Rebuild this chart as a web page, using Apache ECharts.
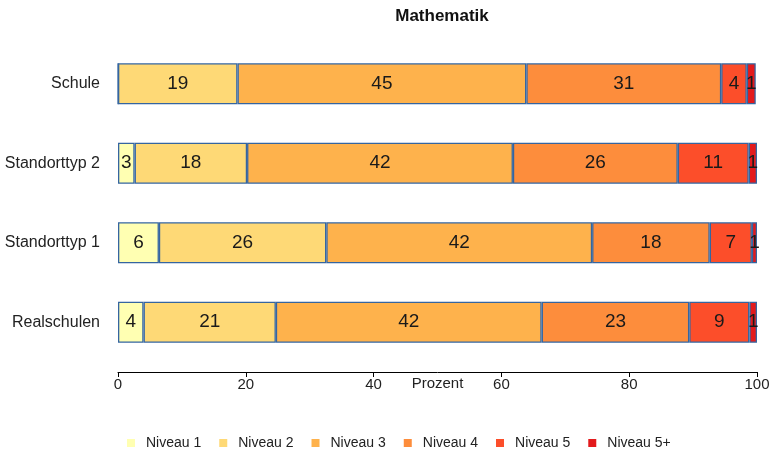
<!DOCTYPE html>
<html>
<head>
<meta charset="utf-8">
<script src="https://cdn.jsdelivr.net/npm/echarts@6/dist/echarts.min.js"></script>
<style>html,body{margin:0;padding:0;background:#fff;}#c{width:769px;height:452px;}</style>
</head>
<body>
<div id="c"></div>
<script>
var categories = ['Schule', 'Standorttyp 2', 'Standorttyp 1', 'Realschulen'];
var seriesNames = ['Niveau 1', 'Niveau 2', 'Niveau 3', 'Niveau 4', 'Niveau 5', 'Niveau 5+'];
var niveau1  = [0,    2.6,  6.4,  4.0];
var niveau2  = [18.7, 17.6, 26.2, 20.7];
var niveau3  = [45.2, 41.6, 41.6, 41.6];
var niveau4  = [30.5, 25.8, 18.4, 23.1];
var niveau5  = [4.0,  11.1, 6.6,  9.4];
var niveau5p = [1.4,  1.3,  0.8,  1.2];
var colors = ['#FFFFB2', '#FED976', '#FEB24C', '#FD8D3C', '#FC4E2A', '#E31A1C'];
var xTicks = [0, 20, 40, 60, 80, 100];

var allData = [niveau1, niveau2, niveau3, niveau4, niveau5, niveau5p];
var chart = echarts.init(document.getElementById('c'));
var font = 'Liberation Sans, Arial, sans-serif';
var series = seriesNames.map(function (n, i) {
  return {
    name: n,
    type: 'bar',
    stack: 'total',
    barWidth: 41,
    data: allData[i],
    itemStyle: { color: colors[i], borderColor: '#3565a0', borderWidth: 1.3 },
    label: {
      show: true,
      position: 'inside',
      color: '#1a1a1a',
      fontFamily: font,
      fontSize: 19,
      formatter: function (p) { return p.value > 0 ? String(Math.round(p.value)) : ''; }
    }
  };
});
chart.setOption({
  animation: false,
  backgroundColor: '#ffffff',
  color: colors,
  title: {
    text: 'Mathematik',
    left: 437, top: 3, textAlign: 'center',
    textStyle: { fontFamily: font, fontSize: 17, fontWeight: 'bold', color: '#111' }
  },
  legend: {
    data: seriesNames,
    top: 431, left: 122,
    icon: 'rect', itemWidth: 8, itemHeight: 8, itemGap: 18,
    itemStyle: { borderWidth: 0 },
    textStyle: { fontFamily: font, fontSize: 14, color: '#222', padding: [0, 0, 0, 6] }
  },
  grid: { left: 118, right: 12, top: 44, bottom: 90, outerBoundsMode: 'none', containLabel: false },
  xAxis: {
    type: 'value', min: xTicks[0], max: xTicks[xTicks.length - 1], interval: 20,
    offset: 10,
    name: 'Prozent', nameLocation: 'middle', nameGap: 4, nameMoveOverlap: false,
    nameTextStyle: { fontFamily: font, fontSize: 15, color: '#222', verticalAlign: 'top' },
    axisLine: { show: true, lineStyle: { color: '#000', width: 1 } },
    axisTick: { show: true, length: 5, lineStyle: { color: '#000' } },
    axisLabel: { fontFamily: font, fontSize: 15, color: '#222', margin: 5 },
    splitLine: { show: false }
  },
  yAxis: {
    type: 'category', data: categories, inverse: true,
    axisLine: { show: false }, axisTick: { show: false },
    axisLabel: { fontFamily: font, fontSize: 16, color: '#222', margin: 18 }
  },
  series: series
});
</script>
</body>
</html>
